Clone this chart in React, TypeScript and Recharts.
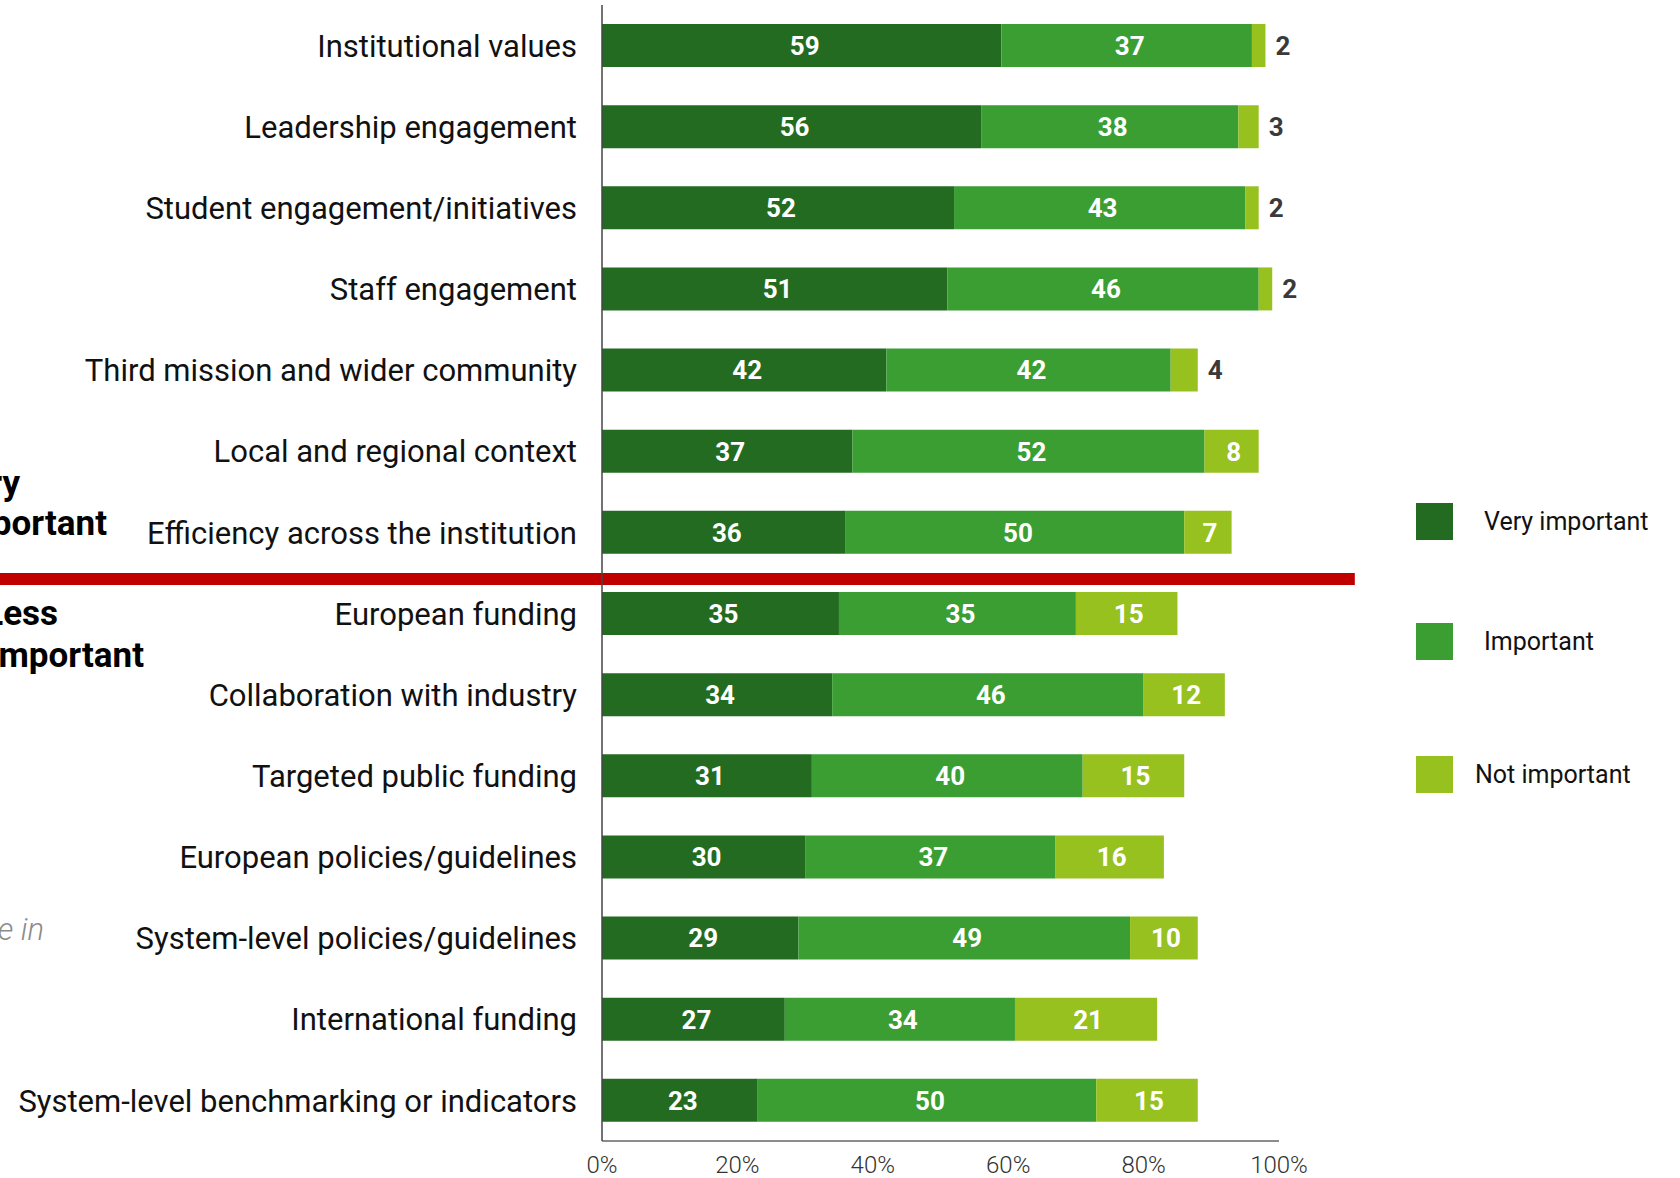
import React from 'react';
import { BarChart, Bar, XAxis, YAxis, LabelList, Legend, ReferenceLine, Customized } from 'recharts';

const categories = [
  'Institutional values',
  'Leadership engagement',
  'Student engagement/initiatives',
  'Staff engagement',
  'Third mission and wider community',
  'Local and regional context',
  'Efficiency across the institution',
  'European funding',
  'Collaboration with industry',
  'Targeted public funding',
  'European policies/guidelines',
  'System-level policies/guidelines',
  'International funding',
  'System-level benchmarking or indicators',
];
const veryImportant = [59, 56, 52, 51, 42, 37, 36, 35, 34, 31, 30, 29, 27, 23];
const important = [37, 38, 43, 46, 42, 52, 50, 35, 46, 40, 37, 49, 34, 50];
const notImportant = [2, 3, 2, 2, 4, 8, 7, 15, 12, 15, 16, 10, 21, 15];
const xTicks = [0, 20, 40, 60, 80, 100];
const seriesNames = ['Very important', 'Important', 'Not important'];
const colors = ['#246B22', '#3A9E33', '#96C11F'];
const dividerCategory = 'European funding';

const data = categories.map((name, i) => ({
  name,
  very: veryImportant[i],
  imp: important[i],
  not: notImportant[i],
}));

const getBox = (props: any) => {
  const vb = props.viewBox || {};
  return {
    x: Number(vb.x ?? props.x),
    y: Number(vb.y ?? props.y),
    width: Number(vb.width ?? props.width),
    height: Number(vb.height ?? props.height),
  };
};

const InsideLabel = (props: any) => {
  const { x, y, width, height } = getBox(props);
  return (
    <text x={x + width / 2 + 3} y={y + height / 2} dy="0.36em" textAnchor="middle" fill="#ffffff" fontSize={26} fontWeight={700}>
      {props.value}
    </text>
  );
};

const NotLabel = (props: any) => {
  const { x, y, width, height } = getBox(props);
  const v = Number(props.value);
  if (v < 5) {
    return (
      <text x={x + width + 10} y={y + height / 2} dy="0.36em" textAnchor="start" fill="#3a3a3a" fontSize={26} fontWeight={700}>
        {props.value}
      </text>
    );
  }
  return (
    <text x={x + width / 2 + 2} y={y + height / 2} dy="0.36em" textAnchor="middle" fill="#ffffff" fontSize={26} fontWeight={700}>
      {props.value}
    </text>
  );
};

const CategoryTick = (props: any) => {
  const { x, y, payload } = props;
  return (
    <text x={x} y={y} dy="0.36em" textAnchor="end" fill="#111111" fontSize={31}>
      {payload.value}
    </text>
  );
};

const legendTops = [0, 120, 253];
const legendTextX = [68, 68, 59];

const LegendContent = (props: any) => {
  const payload = [...(props.payload || [])].sort(
    (a: any, b: any) => seriesNames.indexOf(a.value) - seriesNames.indexOf(b.value)
  );
  return (
    <div style={{ position: 'relative', width: 264, height: 300 }}>
      {payload.map((item: any, i: number) => (
        <div key={i} style={{ position: 'absolute', left: 0, top: legendTops[i], height: 37, width: 264 }}>
          <div style={{ position: 'absolute', left: 0, top: 0, width: 37, height: 37, background: item.color }} />
          <div style={{ position: 'absolute', left: legendTextX[i], top: 0, height: 37, lineHeight: '37px', fontSize: 25, color: '#111', whiteSpace: 'nowrap' }}>
            {item.value}
          </div>
        </div>
      ))}
    </div>
  );
};

const SideNotes = () => (
  <g>
    <text x={20} y={495} textAnchor="end" fontSize={35} fontWeight={700} fill="#000">Very</text>
    <text x={107} y={535} textAnchor="end" fontSize={35} fontWeight={700} fill="#000">important</text>
    <text x={58} y={625} textAnchor="end" fontSize={35} fontWeight={700} fill="#000">Less</text>
    <text x={144} y={667} textAnchor="end" fontSize={35} fontWeight={700} fill="#000">important</text>
    <text x={44} y={940} textAnchor="end" fontSize={31} fontStyle="italic" fontWeight={300} fill="#8c8c8c">e in</text>
  </g>
);

const RedLine = (p: any) => (
  <line x1={p.x1} y1={p.y1 + 6} x2={p.x2} y2={p.y2 + 6} stroke="#C00000" strokeWidth={12} />
);

export default function App() {
  return (
    <div style={{ position: 'absolute', left: 0, top: 0, width: 1680, height: 1178, background: '#fff', fontFamily: 'Roboto, sans-serif' }}>
      <BarChart
        layout="vertical"
        width={1680}
        height={1178}
        data={data}
        margin={{ top: 5, right: 401, bottom: 0, left: 0 }}
        barSize={43}
      >
        <XAxis
          type="number"
          domain={[0, 100]}
          ticks={xTicks}
          tickFormatter={(v: number) => `${v}%`}
          height={37}
          tickLine={false}
          tickSize={0}
          tickMargin={15}
          axisLine={{ stroke: '#666', strokeWidth: 1.5 }}
          tick={{ fill: '#333', fontSize: 24, fontWeight: 300 }}
          interval={0}
        />
        <YAxis
          type="category"
          dataKey="name"
          width={602}
          tickLine={false}
          tickSize={0}
          tickMargin={25}
          axisLine={{ stroke: '#444', strokeWidth: 1.5 }}
          tick={<CategoryTick />}
          interval={0}
        />
        <Legend
          layout="vertical"
          align="center"
          verticalAlign="middle"
          content={<LegendContent />}
          wrapperStyle={{ left: 1416, top: 503, width: 264, height: 300 }}
        />
        <ReferenceLine
          segment={[{ x: -89, y: dividerCategory }, { x: 111.2, y: dividerCategory }]}
          position="start"
          ifOverflow="visible"
          stroke="#C00000"
          strokeWidth={12}
          shape={RedLine}
        />
        <Bar dataKey="very" name={seriesNames[0]} stackId="a" fill={colors[0]} isAnimationActive={false}>
          <LabelList dataKey="very" content={<InsideLabel />} />
        </Bar>
        <Bar dataKey="imp" name={seriesNames[1]} stackId="a" fill={colors[1]} isAnimationActive={false}>
          <LabelList dataKey="imp" content={<InsideLabel />} />
        </Bar>
        <Bar dataKey="not" name={seriesNames[2]} stackId="a" fill={colors[2]} isAnimationActive={false}>
          <LabelList dataKey="not" content={<NotLabel />} />
        </Bar>
        <Customized component={<SideNotes />} />
      </BarChart>
    </div>
  );
}
